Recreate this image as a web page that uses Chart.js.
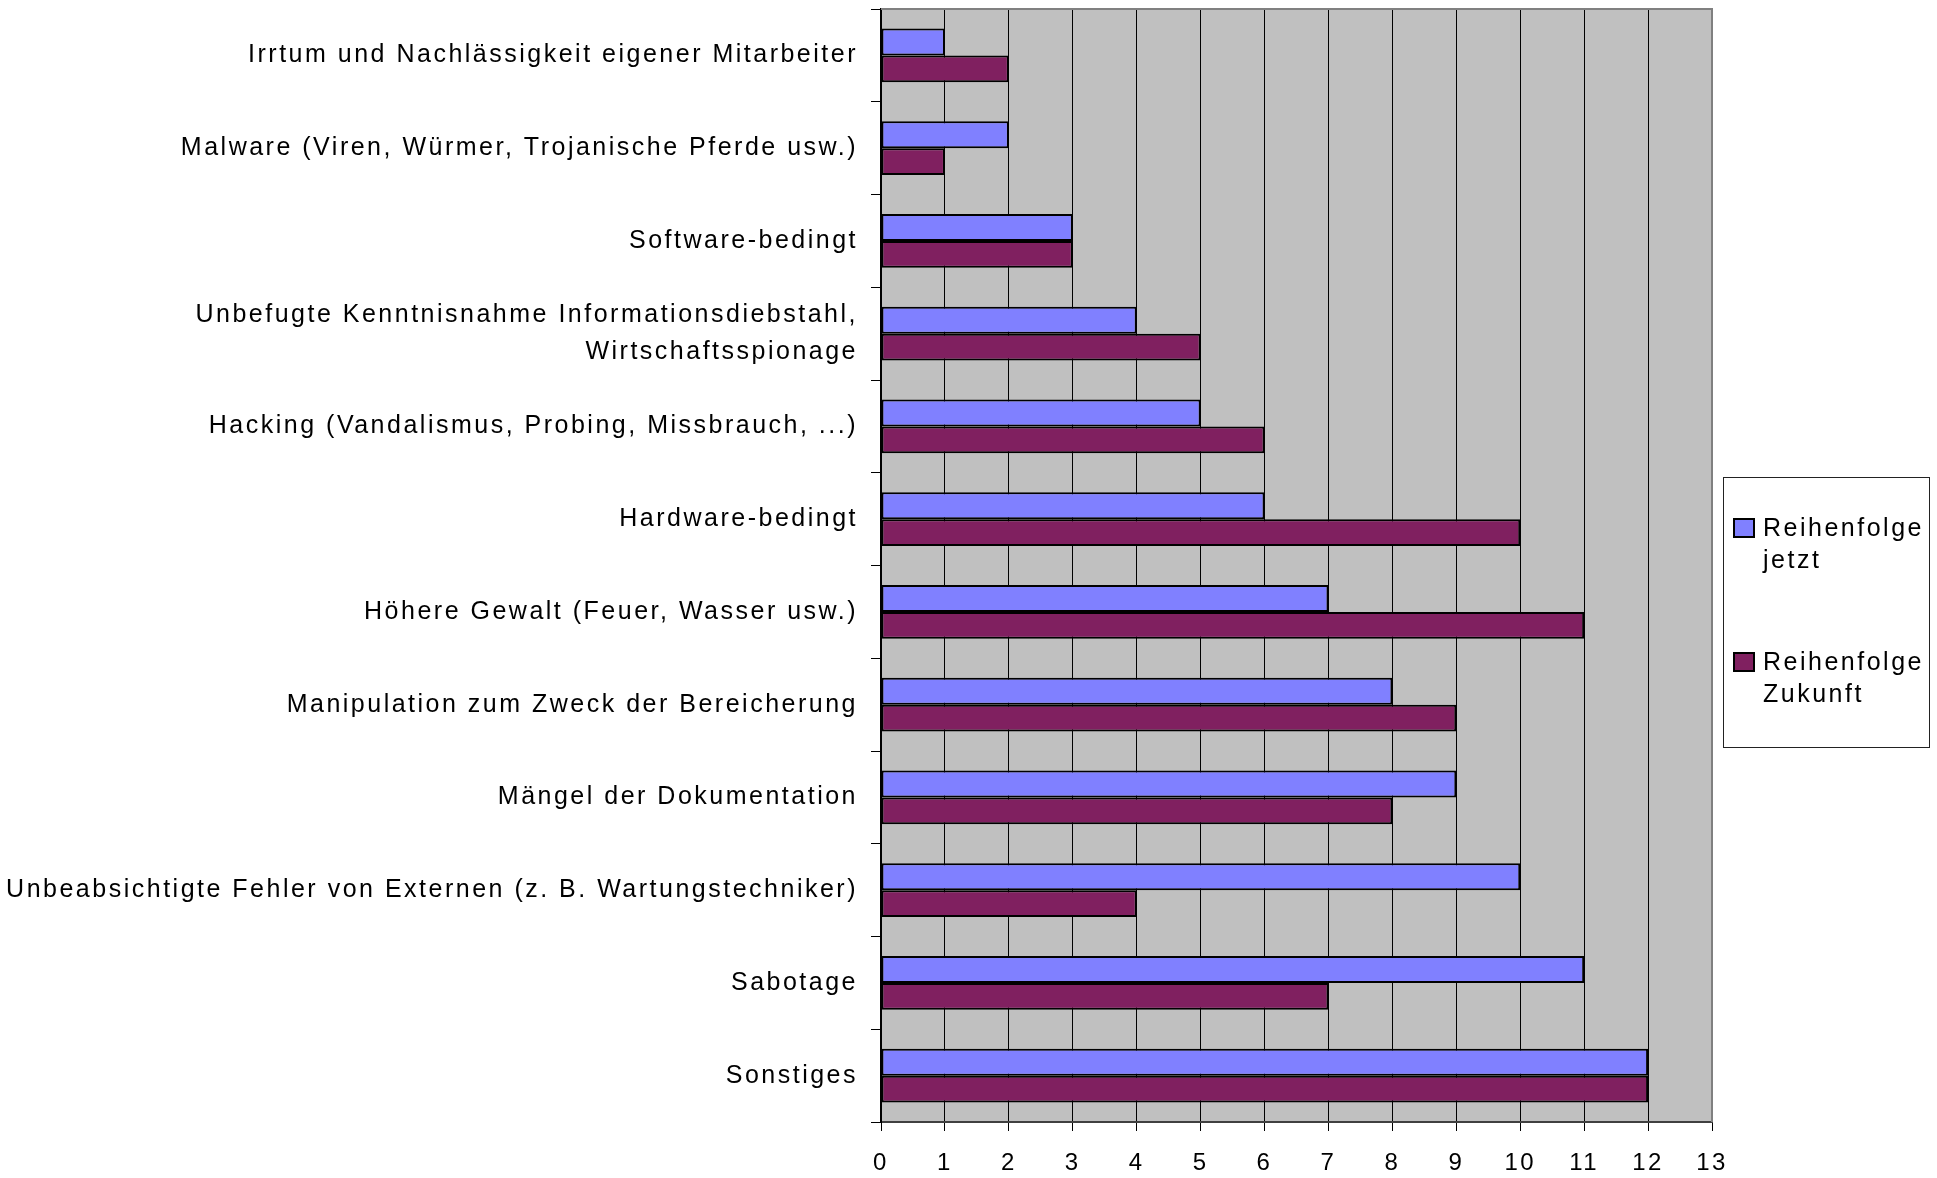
<!DOCTYPE html>
<html>
<head>
<meta charset="utf-8">
<script src="https://cdn.jsdelivr.net/npm/chart.js@4/dist/chart.umd.min.js"></script>
<style>
  html, body { margin: 0; padding: 0; background: #fff; }
  #wrap { width: 1937px; height: 1178px; position: relative; }
</style>
</head>
<body>
<div id="wrap"><canvas id="c"></canvas></div>
<script>
const categories = [
  "Irrtum und Nachlässigkeit eigener Mitarbeiter",
  "Malware (Viren, Würmer, Trojanische Pferde usw.)",
  "Software-bedingt",
  ["Unbefugte Kenntnisnahme Informationsdiebstahl,", "Wirtschaftsspionage"],
  "Hacking (Vandalismus, Probing, Missbrauch, ...)",
  "Hardware-bedingt",
  "Höhere Gewalt (Feuer, Wasser usw.)",
  "Manipulation zum Zweck der Bereicherung",
  "Mängel der Dokumentation",
  "Unbeabsichtigte Fehler von Externen (z. B. Wartungstechniker)",
  "Sabotage",
  "Sonstiges"
];
const seriesNames = ["Reihenfolge jetzt", "Reihenfolge Zukunft"];
const reihenfolgeJetzt   = [1, 2, 3, 4, 5, 6, 7, 8, 9, 10, 11, 12];
const reihenfolgeZukunft = [2, 1, 3, 5, 6, 10, 11, 9, 8, 4, 7, 12];
const xTicks = [0, 1, 2, 3, 4, 5, 6, 7, 8, 9, 10, 11, 12, 13];

const FONT = '"Liberation Sans", Arial, sans-serif';
const SPACING = '2.5px';

const spacingPlugin = {
  id: 'spacing',
  beforeLayout(chart) { chart.ctx.letterSpacing = SPACING; },
  beforeDraw(chart) {
    const ctx = chart.ctx;
    ctx.letterSpacing = SPACING;
    const a = chart.chartArea;
    ctx.save();
    ctx.fillStyle = '#c0c0c0';
    ctx.fillRect(a.left, a.top, a.right - a.left, a.bottom - a.top);
    ctx.restore();
  },
  beforeDatasetsDraw(chart) {
    const ctx = chart.ctx;
    const a = chart.chartArea;
    ctx.save();
    ctx.strokeStyle = '#808080';
    ctx.lineWidth = 2;
    ctx.beginPath();
    ctx.moveTo(a.left, a.top);
    ctx.lineTo(a.right, a.top);
    ctx.lineTo(a.right, a.bottom);
    ctx.stroke();
    ctx.restore();
  }
};

const boxLegend = {
  id: 'boxLegend',
  afterDraw(chart) {
    const ctx = chart.ctx;
    const a = chart.chartArea;
    const bx = a.right + 11, by = 477, bw = 206, bh = 270;
    ctx.save();
    ctx.letterSpacing = SPACING;
    ctx.fillStyle = '#fff';
    ctx.fillRect(bx, by, bw, bh);
    ctx.strokeStyle = '#222';
    ctx.lineWidth = 1;
    ctx.strokeRect(bx + 0.5, by + 0.5, bw, bh);
    ctx.font = '25px ' + FONT;
    ctx.textBaseline = 'middle';
    ctx.textAlign = 'left';
    chart.data.datasets.forEach((ds, i) => {
      const top = by + 42 + i * 134;
      ctx.fillStyle = ds.backgroundColor;
      ctx.fillRect(bx + 11, top, 20, 18);
      ctx.strokeStyle = '#000';
      ctx.lineWidth = 2;
      ctx.strokeRect(bx + 11, top, 20, 18);
      ctx.fillStyle = '#000';
      const lines = ds.label.split(' ');
      lines.forEach((ln, j) => ctx.fillText(ln, bx + 40, top + 10 + j * 32));
    });
    ctx.restore();
  }
};

new Chart(document.getElementById('c'), {
  type: 'bar',
  data: {
    labels: categories,
    datasets: [
      { label: seriesNames[0], data: reihenfolgeJetzt, backgroundColor: '#8080ff',
        borderColor: '#000', borderWidth: 2, borderSkipped: false },
      { label: seriesNames[1], data: reihenfolgeZukunft, backgroundColor: '#802060',
        borderColor: '#000', borderWidth: 2, borderSkipped: false }
    ]
  },
  options: {
    indexAxis: 'y',
    responsive: true,
    maintainAspectRatio: false,
    animation: false,
    devicePixelRatio: 1,
    layout: { padding: { top: 9, right: 225, left: 0, bottom: 0 } },
    datasets: { bar: { categoryPercentage: 0.58, barPercentage: 1 } },
    plugins: { legend: { display: false }, tooltip: { enabled: false } },
    scales: {
      x: {
        type: 'linear', min: 0, max: 13,
        afterBuildTicks(scale) { scale.ticks = xTicks.map(v => ({ value: v })); },
        ticks: { stepSize: 1, color: '#000', padding: 18, maxRotation: 0,
                 font: { family: FONT, size: 24 } },
        grid: { color: '#000', lineWidth: 1, tickLength: 9, tickColor: '#000', drawTicks: true },
        border: { color: '#404040', width: 2 },
        afterFit(scale) { scale.height = 56; scale.paddingLeft = 0; scale.paddingRight = 0; }
      },
      y: {
        type: 'category',
        offset: true,
        ticks: { color: '#000', padding: 13, autoSkip: false,
                 font: { family: FONT, size: 25, lineHeight: 1.48 } },
        grid: { drawOnChartArea: false, drawTicks: true, tickLength: 10, tickColor: '#000', offset: true },
        border: { color: '#000', width: 2 },
        afterFit(scale) { scale.width = 881; scale.paddingTop = 0; scale.paddingBottom = 0; }
      }
    }
  },
  plugins: [spacingPlugin, boxLegend]
});
</script>
</body>
</html>
